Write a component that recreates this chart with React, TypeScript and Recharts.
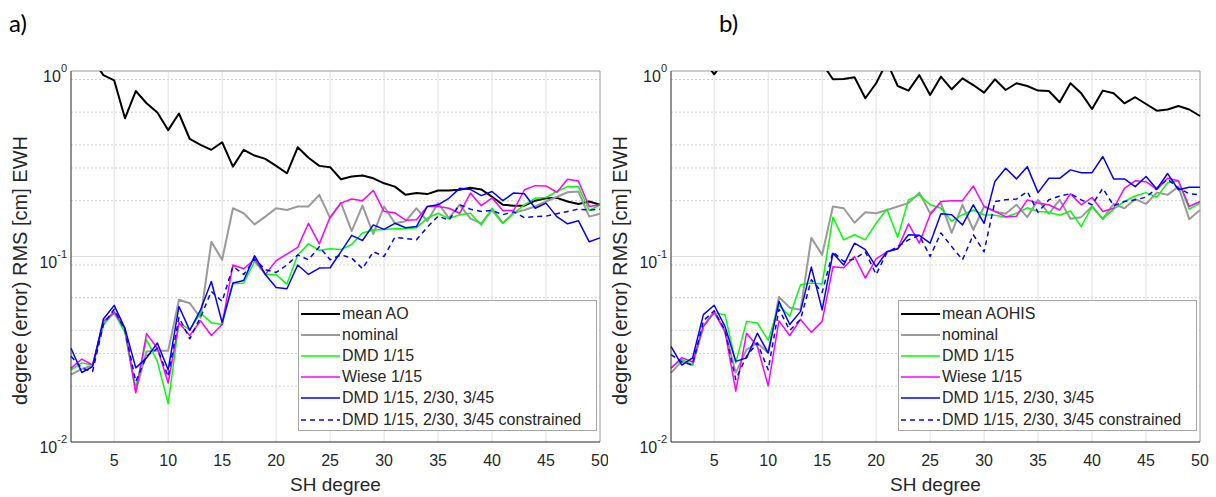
import React from "react";
import { LineChart, Line, XAxis, YAxis, CartesianGrid, Legend } from "recharts";

const FONT = '"Liberation Sans", Arial, sans-serif';
const INK = "#262626";

// SH degree (x categories)
const degrees = [
  1, 2, 3, 4, 5, 6, 7, 8, 9, 10, 11, 12, 13, 14, 15, 16, 17, 18, 19, 20, 21, 22, 23, 24, 25,
  26, 27, 28, 29, 30, 31, 32, 33, 34, 35, 36, 37, 38, 39, 40, 41, 42, 43, 44, 45, 46, 47, 48, 49, 50,
];

const xTicks = [5, 10, 15, 20, 25, 30, 35, 40, 45, 50];
const xGrid = [5, 10, 15, 20, 25, 30, 35, 40, 45];
const yTicks = [0.01, 0.1, 1];
const yMinor = [0.02, 0.03, 0.04, 0.05, 0.06, 0.07, 0.08, 0.09, 0.2, 0.3, 0.4, 0.5, 0.6, 0.7, 0.8, 0.9];
const yAllTicks = [0.01, ...yMinor.slice(0, 8), 0.1, ...yMinor.slice(8), 1];

// panel a) values
const aMeanAO = [
  1.6, 1.4, 1.15, 0.95, 0.89, 0.556, 0.78, 0.67, 0.597, 0.48, 0.59, 0.43, 0.4, 0.376, 0.413, 0.305, 0.376, 0.35, 0.336, 0.308,
  0.281, 0.388, 0.341, 0.308, 0.303, 0.261, 0.27, 0.273, 0.264, 0.248, 0.238, 0.215, 0.22, 0.217, 0.227, 0.227, 0.229, 0.235, 0.23, 0.21,
  0.19, 0.188, 0.188, 0.2, 0.206, 0.207, 0.198, 0.192, 0.198, 0.19,
];
const aNominal = [
  0.0231, 0.0248, 0.0258, 0.0429, 0.0506, 0.0395, 0.0188, 0.0308, 0.031, 0.031, 0.0585, 0.056, 0.0466, 0.12, 0.096, 0.182, 0.171, 0.149, 0.164, 0.182,
  0.178, 0.186, 0.186, 0.215, 0.161, 0.195, 0.137, 0.188, 0.132, 0.186, 0.151, 0.155, 0.182, 0.155, 0.194, 0.161, 0.19, 0.16, 0.151, 0.178,
  0.151, 0.172, 0.178, 0.186, 0.198, 0.21, 0.222, 0.224, 0.164, 0.17,
];
const aDmd = [
  0.0245, 0.0267, 0.026, 0.043, 0.0496, 0.039, 0.0196, 0.0356, 0.0272, 0.0161, 0.0438, 0.0403, 0.0496, 0.044, 0.043, 0.0713, 0.072, 0.094, 0.08, 0.08,
  0.071, 0.102, 0.117, 0.108, 0.11, 0.109, 0.116, 0.134, 0.139, 0.14, 0.141, 0.141, 0.143, 0.161, 0.171, 0.16, 0.168, 0.171, 0.148, 0.182,
  0.151, 0.171, 0.19, 0.206, 0.208, 0.224, 0.238, 0.238, 0.177, 0.19,
];
const aWiese = [
  0.025, 0.028, 0.026, 0.0447, 0.05, 0.041, 0.0184, 0.0384, 0.032, 0.0208, 0.044, 0.0375, 0.045, 0.0375, 0.043, 0.09, 0.0859, 0.0967, 0.08, 0.095,
  0.103, 0.112, 0.151, 0.117, 0.163, 0.194, 0.204, 0.2, 0.227, 0.175, 0.172, 0.157, 0.158, 0.186, 0.186, 0.182, 0.171, 0.22, 0.188, 0.207,
  0.177, 0.177, 0.229, 0.241, 0.24, 0.222, 0.261, 0.255, 0.186, 0.19,
];
const aDmdMulti = [
  0.032, 0.0237, 0.0255, 0.046, 0.0545, 0.041, 0.0251, 0.0284, 0.0342, 0.0245, 0.0538, 0.04, 0.0516, 0.0733, 0.044, 0.072, 0.0743, 0.101, 0.08, 0.068,
  0.067, 0.09, 0.08, 0.0866, 0.087, 0.106, 0.13, 0.122, 0.148, 0.14, 0.151, 0.143, 0.145, 0.186, 0.19, 0.206, 0.233, 0.23, 0.213, 0.224,
  0.2, 0.22, 0.218, 0.182, 0.194, 0.164, 0.15, 0.156, 0.12, 0.126,
];
const aDmdConstr = [
  0.029, 0.025, 0.024, 0.043, 0.052, 0.04, 0.0212, 0.029, 0.032, 0.0225, 0.047, 0.036, 0.047, 0.0648, 0.0573, 0.0883, 0.08, 0.097, 0.085, 0.082,
  0.09, 0.102, 0.096, 0.113, 0.096, 0.102, 0.098, 0.086, 0.106, 0.1, 0.127, 0.125, 0.123, 0.144, 0.165, 0.157, 0.19, 0.18, 0.175, 0.177,
  0.168, 0.174, 0.162, 0.164, 0.165, 0.17, 0.175, 0.18, 0.178, 0.18,
];

// panel b) values
const bMeanAOHIS = [
  1.4, 1.5, 1.3, 1.15, 0.96, 1.15, 1.5, 1.6, 1.5, 1.4, 1.5, 1.4, 1.3, 1.2, 1.1, 0.902, 0.905, 0.925, 0.713, 0.859,
  1.12, 0.83, 0.784, 0.95, 0.743, 0.932, 0.797, 0.913, 0.84, 0.764, 0.902, 0.79, 0.859, 0.83, 0.784, 0.78, 0.678, 0.859, 0.758, 0.624,
  0.784, 0.758, 0.67, 0.722, 0.664, 0.611, 0.62, 0.648, 0.62, 0.572,
];
const bNominal = [
  0.0236, 0.0272, 0.026, 0.042, 0.0506, 0.0395, 0.0236, 0.0315, 0.0342, 0.0302, 0.0605, 0.053, 0.0516, 0.126, 0.102, 0.186, 0.182, 0.152, 0.173, 0.171,
  0.178, 0.186, 0.194, 0.221, 0.171, 0.194, 0.134, 0.19, 0.139, 0.186, 0.175, 0.17, 0.19, 0.163, 0.202, 0.17, 0.202, 0.16, 0.163, 0.186,
  0.159, 0.192, 0.182, 0.204, 0.192, 0.221, 0.215, 0.238, 0.159, 0.178,
];
const bDmd = [
  0.0251, 0.028, 0.026, 0.042, 0.0496, 0.0486, 0.0267, 0.0447, 0.0438, 0.0354, 0.0546, 0.0476, 0.0704, 0.072, 0.071, 0.163, 0.123, 0.131, 0.123, 0.151,
  0.18, 0.127, 0.202, 0.215, 0.19, 0.182, 0.155, 0.168, 0.178, 0.168, 0.167, 0.163, 0.171, 0.183, 0.175, 0.173, 0.167, 0.176, 0.145, 0.186,
  0.16, 0.18, 0.198, 0.212, 0.221, 0.209, 0.25, 0.255, 0.18, 0.194,
];
const bWiese = [
  0.025, 0.0285, 0.027, 0.042, 0.05, 0.0395, 0.0188, 0.0386, 0.0328, 0.0201, 0.045, 0.0375, 0.0458, 0.039, 0.0447, 0.088, 0.087, 0.1, 0.0765, 0.097,
  0.106, 0.11, 0.15, 0.118, 0.168, 0.198, 0.2, 0.2, 0.24, 0.186, 0.175, 0.164, 0.165, 0.202, 0.194, 0.19, 0.178, 0.218, 0.19, 0.208,
  0.175, 0.182, 0.233, 0.256, 0.253, 0.23, 0.264, 0.256, 0.186, 0.198,
];
const bDmdMulti = [
  0.0328, 0.026, 0.0284, 0.0486, 0.0546, 0.042, 0.0272, 0.0284, 0.0386, 0.0302, 0.0573, 0.043, 0.0506, 0.0877, 0.0516, 0.104, 0.09, 0.118, 0.109, 0.088,
  0.106, 0.11, 0.131, 0.13, 0.118, 0.17, 0.168, 0.148, 0.19, 0.151, 0.254, 0.299, 0.262, 0.305, 0.221, 0.264, 0.264, 0.293, 0.283, 0.283,
  0.346, 0.262, 0.262, 0.238, 0.27, 0.231, 0.28, 0.229, 0.236, 0.236,
];
const bDmdConstr = [
  0.0296, 0.027, 0.026, 0.045, 0.051, 0.04, 0.0217, 0.029, 0.0342, 0.0245, 0.052, 0.04, 0.0458, 0.075, 0.064, 0.106, 0.094, 0.097, 0.106, 0.08,
  0.105, 0.113, 0.123, 0.13, 0.1, 0.134, 0.113, 0.096, 0.131, 0.106, 0.198, 0.202, 0.204, 0.224, 0.173, 0.202, 0.212, 0.218, 0.202, 0.19,
  0.233, 0.188, 0.198, 0.202, 0.209, 0.233, 0.261, 0.233, 0.218, 0.215,
];

type Series = { key: string; color: string; width: number; dash?: string };

const series: Series[] = [
  { key: "mean", color: "#000000", width: 2 },
  { key: "nominal", color: "#9a9a9a", width: 2 },
  { key: "dmd", color: "#00ff00", width: 1.5 },
  { key: "wiese", color: "#ff00ff", width: 1.5 },
  { key: "dmdMulti", color: "#0000ff", width: 1.5 },
  { key: "dmdConstr", color: "#0000ff", width: 1.5, dash: "5 4" },
];

const labelsA = ["mean AO", "nominal", "DMD 1/15", "Wiese 1/15", "DMD 1/15, 2/30, 3/45", "DMD 1/15, 2/30, 3/45 constrained"];
const labelsB = ["mean AOHIS", "nominal", "DMD 1/15", "Wiese 1/15", "DMD 1/15, 2/30, 3/45", "DMD 1/15, 2/30, 3/45 constrained"];

const rowsA = degrees.map((d, i) => ({
  deg: d, mean: aMeanAO[i], nominal: aNominal[i], dmd: aDmd[i], wiese: aWiese[i], dmdMulti: aDmdMulti[i], dmdConstr: aDmdConstr[i],
}));
const rowsB = degrees.map((d, i) => ({
  deg: d, mean: bMeanAOHIS[i], nominal: bNominal[i], dmd: bDmd[i], wiese: bWiese[i], dmdMulti: bDmdMulti[i], dmdConstr: bDmdConstr[i],
}));

function XTick({ x, y, payload }: any) {
  return (
    <text x={x} y={y} dy={13} textAnchor="middle" fontSize={16} fill={INK} fontFamily={FONT}>
      {payload.value}
    </text>
  );
}

function YTick({ x, y, payload }: any) {
  const exp = Math.round(Math.log10(payload.value));
  return (
    <text x={x} y={y} dy={11} textAnchor="end" fontSize={16} fill={INK} fontFamily={FONT}>
      10
      <tspan dy={-10} fontSize={11}>{exp}</tspan>
    </text>
  );
}

function LegendBox({ labels }: { labels: string[] }) {
  return (
    <div
      style={{
        width: 299, height: 131, boxSizing: "border-box", border: "1px solid #a6a6a6", background: "#fff",
        paddingTop: 2, fontFamily: FONT, fontSize: 16, color: INK,
      }}
    >
      {series.map((s, i) => (
        <div key={s.key} style={{ display: "flex", alignItems: "center", height: 21.2, whiteSpace: "nowrap" }}>
          <svg width={42} height={10} style={{ flex: "none" }}>
            <line x1={2} x2={41} y1={5} y2={5} stroke={s.color} strokeWidth={s.width} strokeDasharray={s.dash} />
          </svg>
          <span style={{ marginLeft: 1 }}>{labels[i]}</span>
        </div>
      ))}
    </div>
  );
}

function Panel({ rows, labels, left, width, right }: { rows: any[]; labels: string[]; left: number; width: number; right: number }) {
  return (
    <div style={{ position: "absolute", left, top: 0 }}>
      <LineChart width={width} height={497} data={rows} margin={{ top: 71, right, bottom: 0, left: 0 }}>
        <CartesianGrid horizontalValues={yMinor} vertical={false} stroke="#d2d2d2" strokeDasharray="2 2" />
        <CartesianGrid horizontalValues={[0.1]} verticalValues={xGrid} stroke="#e0e0e0" />
        <CartesianGrid horizontalValues={[1]} verticalValues={[50]} stroke="#9a9a9a" />
        <XAxis
          dataKey="deg"
          type="number"
          domain={[1, 50]}
          ticks={xTicks}
          height={55}
          tickSize={0}
          tickMargin={11}
          tick={<XTick />}
          axisLine={{ stroke: INK }}
          tickLine={false}
          label={{
            content: (p: any) => (
              <text x={p.viewBox.x + p.viewBox.width / 2} y={p.viewBox.y + 49} textAnchor="middle" fontSize={19} fill={INK} fontFamily={FONT}>
                SH degree
              </text>
            ),
          }}
        />
        {/* inward tick marks, MATLAB style */}
        <XAxis xAxisId="bin" type="number" domain={[1, 50]} ticks={xTicks} orientation="bottom" mirror height={10}
          axisLine={false} tick={false} tickSize={4} tickLine={{ stroke: INK }} />
        <XAxis xAxisId="top" type="number" domain={[1, 50]} ticks={xTicks} orientation="top" mirror height={10}
          axisLine={false} tick={false} tickSize={4} tickLine={{ stroke: "#8a8a8a" }} />
        <YAxis
          type="number"
          scale="log"
          domain={[0.01, 1]}
          allowDataOverflow
          ticks={yTicks}
          width={71}
          tickSize={0}
          tickMargin={4}
          tick={<YTick />}
          axisLine={{ stroke: INK }}
          tickLine={false}
          label={{
            content: (p: any) => {
              const cx = p.viewBox.x + 20;
              const cy = p.viewBox.y + p.viewBox.height / 2 + 14;
              return (
                <text x={cx} y={cy} transform={`rotate(-90 ${cx} ${cy})`} dy={7} textAnchor="middle" fontSize={20} fill={INK} fontFamily={FONT}>
                  degree (error) RMS [cm] EWH
                </text>
              );
            },
          }}
        />
        <YAxis yAxisId="lin" type="number" scale="log" domain={[0.01, 1]} allowDataOverflow ticks={yAllTicks} orientation="left" mirror
          width={10} axisLine={false} tick={false} tickSize={3} tickLine={{ stroke: INK }} />
        <YAxis yAxisId="rin" type="number" scale="log" domain={[0.01, 1]} allowDataOverflow ticks={yAllTicks} orientation="right" mirror
          width={10} axisLine={false} tick={false} tickSize={3} tickLine={{ stroke: "#8a8a8a" }} />
        {series.map((s) => (
          <Line
            key={s.key}
            dataKey={s.key}
            stroke={s.color}
            strokeWidth={s.width}
            strokeDasharray={s.dash}
            dot={false}
            activeDot={false}
            isAnimationActive={false}
            strokeLinejoin="round"
          />
        ))}
        <Legend
          layout="horizontal"
          verticalAlign="middle"
          align="center"
          width={299}
          height={131}
          wrapperStyle={{ left: width - right - 302, top: 300 }}
          content={() => <LegendBox labels={labels} />}
        />
      </LineChart>
    </div>
  );
}

export default function App() {
  return (
    <div style={{ position: "absolute", left: 0, top: 0, width: 1216, height: 497, background: "#fff", overflow: "hidden" }}>
      <Panel rows={rowsA} labels={labelsA} left={0} width={608} right={8} />
      <Panel rows={rowsB} labels={labelsB} left={600} width={616} right={16} />
      <div style={{ position: "absolute", left: 9, top: 8, fontFamily: "Lato, sans-serif", fontSize: 24, color: "#000" }}>a)</div>
      <div style={{ position: "absolute", left: 719, top: 8, fontFamily: "Lato, sans-serif", fontSize: 24, color: "#000" }}>b)</div>
    </div>
  );
}
